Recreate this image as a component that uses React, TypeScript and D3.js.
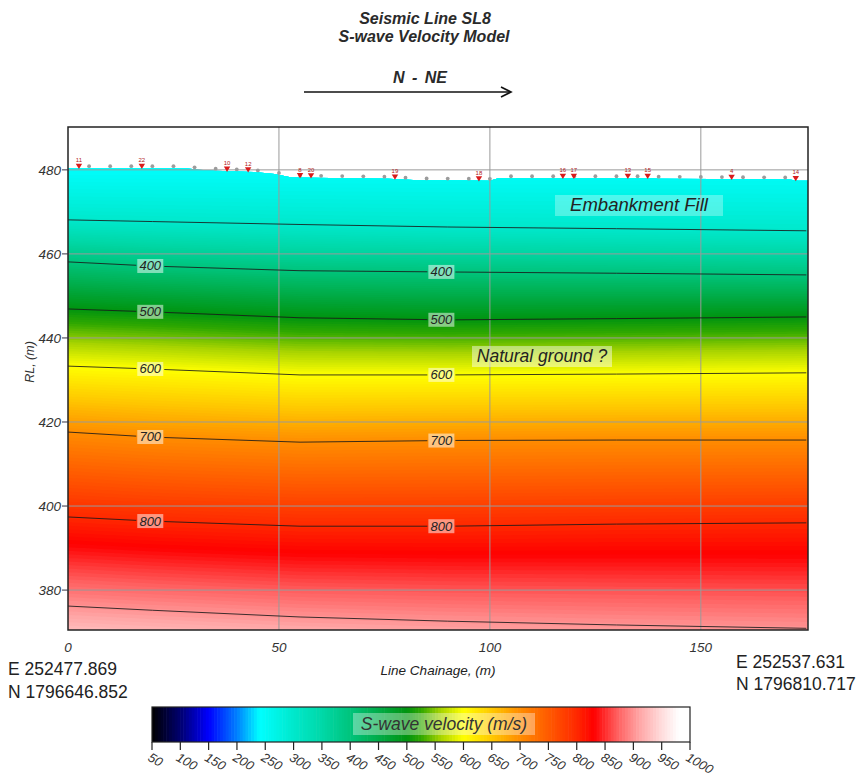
import React, { useMemo } from "react";
import * as d3 from "d3";

// Contour lines of the S-wave velocity model: RL (m) at the control chainages
const contourLevels = [300, 400, 500, 600, 700, 800, 900];
const contourChainage = [0, 20, 55, 90, 130, 175];
const contourRL = [
  [468.1, 467.7, 467.0, 466.4, 466.0, 465.5],
  [458.1, 457.1, 456.0, 455.7, 455.4, 455.0],
  [446.9, 446.2, 444.8, 444.3, 444.6, 445.0],
  [433.3, 432.6, 431.2, 431.2, 431.4, 431.7],
  [417.6, 416.4, 415.2, 415.6, 415.7, 415.7],
  [397.4, 396.4, 395.2, 395.2, 395.7, 396.0],
  [376.2, 375.2, 373.6, 372.6, 371.7, 370.9],
];
const labelledLevels = [400, 500, 600, 700, 800];
const labelChainage = [19.5, 88.5];

// Velocity just below the ground surface
const nearSurfaceVelocity = 240;
const nearSurfaceRL = 481;

// Ground surface profile
const surfaceChainage = [0, 28, 31, 35, 44, 49, 53, 76, 83, 100, 102, 138, 140, 171, 173, 175.4];
const surfaceRL = [480.4, 480.4, 480.0, 479.8, 479.5, 479.0, 478.2, 477.9, 477.5, 477.4, 478.0, 478.0, 477.9, 477.7, 477.4, 477.4];

// Geophones and shot points
const geophoneChainage = [5, 10, 15, 20, 25, 30, 35, 40, 45, 50, 55, 60, 65, 70, 75, 80, 85, 90, 95, 100, 105, 110, 115, 120, 125, 130, 135, 140, 145, 150, 155, 160, 165, 170];
const shotChainage = [2.6, 17.5, 37.7, 42.7, 55, 57.6, 77.5, 97.4, 117.3, 119.9, 132.7, 137.4, 157.3, 172.5];
const shotLabels = ["11", "22", "10", "12", "8", "20", "19", "18", "16", "17", "13", "15", "4", "14"];

// Colour scale
const velStops = [50, 100, 150, 200, 240, 300, 350, 400, 450, 500, 525, 560, 600, 650, 700, 750, 800, 830, 870, 910, 950, 980, 1000];
const velColors = ["#000000", "#000070", "#0000ff", "#0080ff", "#00ffff", "#00e8cc", "#00d8a8", "#00c47c", "#00ac48", "#009410", "#30a800", "#a8d400", "#ffff00", "#ffc800", "#ff8c00", "#ff5a00", "#ff2800", "#ff0000", "#ff5c5c", "#ffa4a4", "#ffdcdc", "#ffffff", "#ffffff"];
const colorbarTicks = [50, 100, 150, 200, 250, 300, 350, 400, 450, 500, 550, 600, 650, 700, 750, 800, 850, 900, 950, 1000];

// Axes
const xTicks = [0, 50, 100, 150];
const yTicks = [380, 400, 420, 440, 460, 480];

const FONT = "'Liberation Sans', Arial, sans-serif";

const plot = { left: 68, right: 808, top: 127, bottom: 630 };
const cb = { left: 152, right: 690, top: 707, bottom: 742 };

function interp(xs: number[], ys: number[], x: number): number {
  if (x <= xs[0]) return ys[0];
  if (x >= xs[xs.length - 1]) return ys[ys.length - 1];
  let i = 1;
  while (xs[i] < x) i++;
  const t = (x - xs[i - 1]) / (xs[i] - xs[i - 1]);
  return ys[i - 1] + t * (ys[i] - ys[i - 1]);
}

function velocityAt(c: number, rl: number): number {
  const rls = contourRL.map((row) => interp(contourChainage, row, c));
  const nodesRL = [nearSurfaceRL, ...rls];
  const nodesV = [nearSurfaceVelocity, ...contourLevels];
  if (rl >= nodesRL[0]) return nodesV[0];
  for (let k = 1; k < nodesRL.length; k++) {
    if (rl >= nodesRL[k]) {
      const t = (nodesRL[k - 1] - rl) / (nodesRL[k - 1] - nodesRL[k]);
      return nodesV[k - 1] + t * (nodesV[k] - nodesV[k - 1]);
    }
  }
  const n = nodesRL.length;
  const slope = (nodesV[n - 1] - nodesV[n - 2]) / (nodesRL[n - 2] - nodesRL[n - 1]);
  return Math.min(1000, nodesV[n - 1] + (nodesRL[n - 1] - rl) * slope);
}

export default function App() {
  const sx = d3.scaleLinear().domain([0, 175.4]).range([plot.left, plot.right]);
  const sy = d3.scaleLinear().domain([370.5, 490.2]).range([plot.bottom, plot.top]);
  const color = d3.scaleLinear<string>().domain(velStops).range(velColors).interpolate(d3.interpolateRgb).clamp(true);
  const cbx = d3.scaleLinear().domain([50, 1000]).range([cb.left, cb.right]);

  const bands = useMemo(() => {
    const x0 = -2, dx = 1, nx = 181;
    const rlTop = 492, dy = 0.4, ny = 308;
    const values = new Array(nx * ny);
    for (let j = 0; j < ny; j++) {
      const rl = rlTop - j * dy;
      for (let i = 0; i < nx; i++) values[j * nx + i] = velocityAt(x0 + i * dx, rl);
    }
    const thresholds = d3.range(230, 1000, 4);
    const polys = d3.contours().size([nx, ny]).thresholds(thresholds)(values);
    const proj = d3.geoTransform({
      point: function (x: number, y: number) {
        (this as any).stream.point(sx(x0 + (x - 0.5) * dx), sy(rlTop - (y - 0.5) * dy));
      },
    });
    const path = d3.geoPath(proj);
    return polys.map((p) => ({ d: path(p as any) || "", fill: color(p.value + 2) }));
  }, []);

  const surfacePts: [number, number][] = surfaceChainage.map((c, i) => [sx(c), sy(surfaceRL[i])]);
  const clipD =
    d3.line()([...surfacePts, [plot.right, plot.bottom], [plot.left, plot.bottom]]) + "Z";

  const contourLine = d3.line<number>()
    .x((_, i) => sx(contourChainage[i]))
    .y((d) => sy(d));

  const labels = labelledLevels.flatMap((lv) => {
    const k = contourLevels.indexOf(lv);
    return labelChainage.map((c) => ({
      text: String(lv),
      x: sx(c),
      y: sy(interp(contourChainage, contourRL[k], c)),
    }));
  });

  const surfY = (c: number) => sy(interp(surfaceChainage, surfaceRL, c));

  return (
    <svg width={856} height={782} style={{ position: "absolute", left: 0, top: 0, background: "#fff" }} fontFamily={FONT}>
      <defs>
        <clipPath id="fieldClip">
          <path d={clipD} />
        </clipPath>
        <clipPath id="plotClip">
          <rect x={plot.left} y={plot.top} width={plot.right - plot.left} height={plot.bottom - plot.top} />
        </clipPath>
        <mask id="lineMask">
          <rect x={0} y={0} width={856} height={782} fill="#fff" />
          {labels.map((l, i) => (
            <rect key={i} x={l.x - 14} y={l.y - 7} width={28} height={14} fill="#000" />
          ))}
        </mask>
      </defs>

      {/* Titles */}
      <text x={425} y={24} textAnchor="middle" fontSize={16} fontWeight="bold" fontStyle="italic" fill="#2a2a2a">Seismic Line SL8</text>
      <text x={424} y={42} textAnchor="middle" fontSize={16} fontWeight="bold" fontStyle="italic" fill="#2a2a2a">S-wave Velocity Model</text>
      <text x={420} y={83} textAnchor="middle" fontSize={16} fontWeight="bold" fontStyle="italic" wordSpacing={3} fill="#2a2a2a">N - NE</text>
      <line x1={304} y1={92} x2={511} y2={92} stroke="#111" strokeWidth={1.5} />
      <polyline points="501,87 511,92 501,97" fill="none" stroke="#111" strokeWidth={1.6} />

      {/* Velocity field */}
      <g clipPath="url(#plotClip)">
        <g clipPath="url(#fieldClip)">
          <rect x={plot.left} y={plot.top} width={plot.right - plot.left} height={plot.bottom - plot.top} fill={color(232)} />
          {bands.map((b, i) => (
            <path key={i} d={b.d} fill={b.fill} />
          ))}
        </g>
        {/* Grid */}
        {xTicks.filter((t) => t > 0).map((t) => (
          <line key={"gx" + t} x1={sx(t)} x2={sx(t)} y1={plot.top} y2={plot.bottom} stroke="#9a9a9a" strokeWidth={1} />
        ))}
        {yTicks.map((t) => (
          <line key={"gy" + t} x1={plot.left} x2={plot.right} y1={sy(t)} y2={sy(t)} stroke="#9a9a9a" strokeWidth={1} />
        ))}
        {/* Contours */}
        <g mask="url(#lineMask)">
          {contourRL.map((row, k) => (
            <path key={k} d={contourLine(row) || ""} fill="none" stroke="#1a1a1a" strokeWidth={1} strokeOpacity={0.85} />
          ))}
        </g>
      </g>

      {/* Contour labels */}
      {labels.map((l, i) => (
        <g key={i}>
          <rect x={l.x - 13} y={l.y - 7} width={26} height={14} fill="#fff" fillOpacity={0.5} />
          <text x={l.x} y={l.y + 4.5} textAnchor="middle" fontSize={13} fontStyle="italic" fill="#222">{l.text}</text>
        </g>
      ))}

      {/* Annotations */}
      <rect x={555} y={195} width={168} height={21} fill="#fff" fillOpacity={0.3} />
      <text x={639} y={211} textAnchor="middle" fontSize={18.5} fontStyle="italic" fill="#222">Embankment Fill</text>
      <rect x={472} y={346} width={140} height={21} fill="#fff" fillOpacity={0.45} />
      <text x={542} y={362} textAnchor="middle" fontSize={17.5} fontStyle="italic" fill="#222">Natural ground ?</text>

      {/* Geophones and shots */}
      {geophoneChainage.map((c) => (
        <g key={"g" + c}>
          <circle cx={sx(c)} cy={surfY(c) - 2} r={1.9} fill="#9c9c9c" />
        </g>
      ))}
      {shotChainage.map((c, i) => {
        const x = sx(c), y = surfY(c) - 2;
        return (
          <g key={"s" + i}>
            <path d={`M${x - 3.2},${y - 2.5}L${x + 3.2},${y - 2.5}L${x},${y + 2.8}Z`} fill="#d91c1c" />
            <text x={x} y={y - 4} textAnchor="middle" fontSize={6} fill="#b02020">{shotLabels[i]}</text>
          </g>
        );
      })}

      {/* Frame */}
      <rect x={plot.left} y={plot.top} width={plot.right - plot.left} height={plot.bottom - plot.top} fill="none" stroke="#222" strokeWidth={1.5} />

      {/* Y axis */}
      {yTicks.map((t) => (
        <g key={"yt" + t}>
          <line x1={62} x2={plot.left} y1={sy(t)} y2={sy(t)} stroke="#334" strokeWidth={1} />
          <text x={61} y={sy(t) + 5} textAnchor="end" fontSize={13.5} fontStyle="italic" fill="#333">{t}</text>
        </g>
      ))}
      <text transform={`translate(34,362) rotate(-90)`} textAnchor="middle" fontSize={12.5} fontStyle="italic" fill="#333">RL, (m)</text>

      {/* X axis */}
      {xTicks.map((t) => (
        <text key={"xt" + t} x={sx(t)} y={652} textAnchor="middle" fontSize={13.5} fontStyle="italic" fill="#333">{t}</text>
      ))}
      <text x={438} y={675} textAnchor="middle" fontSize={13.5} fontStyle="italic" fill="#222">Line Chainage, (m)</text>

      {/* End coordinates */}
      <text x={8} y={675} fontSize={17.5} fill="#222">E 252477.869</text>
      <text x={8} y={698} fontSize={17.5} fill="#222">N 1796646.852</text>
      <text x={736} y={668} fontSize={17.5} fill="#222">E 252537.631</text>
      <text x={736} y={690} fontSize={17.5} fill="#222">N 1796810.717</text>

      {/* Colour bar */}
      {d3.range(50, 1000, 5).map((v) => (
        <rect key={"cb" + v} x={cbx(v)} y={cb.top} width={cbx(v + 5) - cbx(v) + 0.6} height={cb.bottom - cb.top} fill={color(v + 2.5)} />
      ))}
      <rect x={cb.left} y={cb.top} width={cb.right - cb.left} height={cb.bottom - cb.top} fill="none" stroke="#222" strokeWidth={1.2} />
      <rect x={353} y={713} width={182} height={22} fill="#fff" fillOpacity={0.35} />
      <text x={444} y={730} textAnchor="middle" fontSize={17.5} fontStyle="italic" fill="#333">S-wave velocity (m/s)</text>
      {colorbarTicks.map((t) => (
        <g key={"ct" + t}>
          <line x1={cbx(t)} x2={cbx(t)} y1={cb.bottom} y2={cb.bottom + 8} stroke="#222" strokeWidth={1.2} />
          <text transform={`translate(${cbx(t) - 5},${cb.bottom + 18}) rotate(30)`} fontSize={13} fontStyle="italic" fill="#333">{t}</text>
        </g>
      ))}
    </svg>
  );
}
